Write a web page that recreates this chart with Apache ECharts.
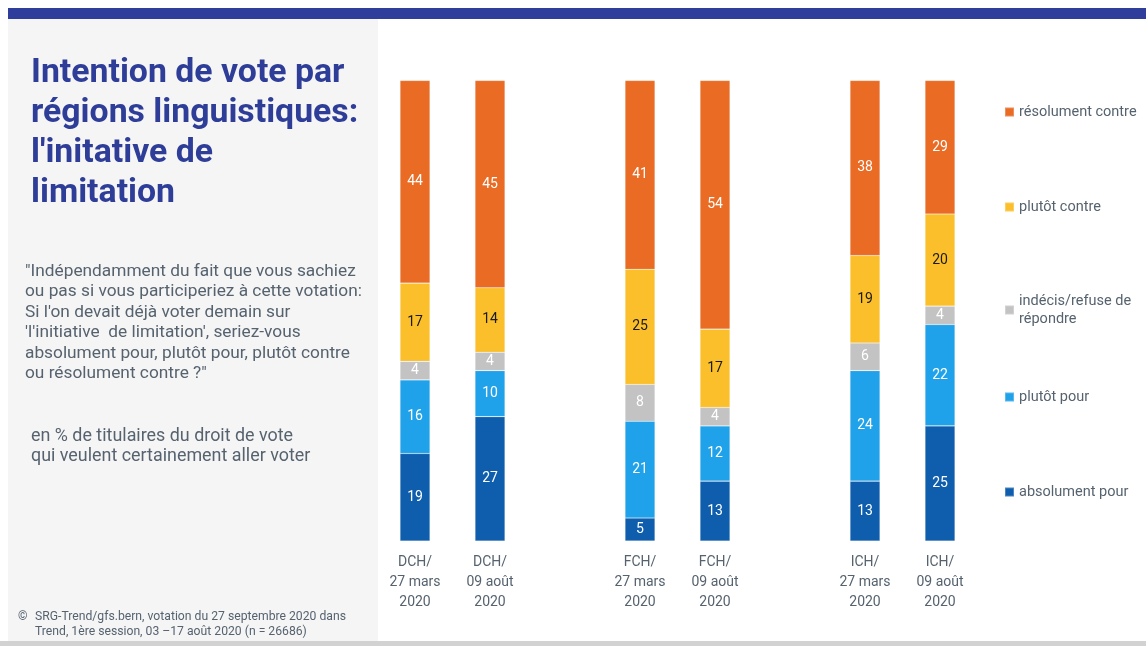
<!DOCTYPE html>
<html>
<head>
<meta charset="utf-8">
<script src="https://cdn.jsdelivr.net/npm/echarts@6/dist/echarts.min.js"></script>
<style>
  html, body { margin: 0; padding: 0; background: #ffffff; }
  #chart { width: 1146px; height: 646px; }
</style>
</head>
<body>
<div id="chart"></div>
<script>
// Survey waves per language region; '' marks the gap between regions
const categories = [
  'DCH/\n27 mars\n2020', 'DCH/\n09 août\n2020', '',
  'FCH/\n27 mars\n2020', 'FCH/\n09 août\n2020', '',
  'ICH/\n27 mars\n2020', 'ICH/\n09 août\n2020'
];

// Shares in % (stacked from bottom to top)
const absolumentPour   = [19, 27, null,  5, 13, null, 13, 25];
const plutotPour       = [16, 10, null, 21, 12, null, 24, 22];
const indecis          = [ 4,  4, null,  8,  4, null,  6,  4];
const plutotContre     = [17, 14, null, 25, 17, null, 19, 20];
const resolumentContre = [44, 45, null, 41, 54, null, 38, 29];

const seriesNames = [
  'absolument pour', 'plutôt pour', 'indécis/refuse de\nrépondre',
  'plutôt contre', 'résolument contre'
];
const seriesData = [absolumentPour, plutotPour, indecis, plutotContre, resolumentContre];
const colors = ['#0e5ead', '#1fa2ea', '#c3c3c3', '#fbbf2b', '#e96b24'];
const labelColors = ['#ffffff', '#ffffff', '#ffffff', '#1b1b1b', '#ffffff'];

const FONT = 'Roboto, "Noto Sans", sans-serif';
const TEXT_GREY = '#56636f';

const chart = echarts.init(document.getElementById('chart'), null, { renderer: 'canvas' });

const series = seriesData.map((d, i) => ({
  name: seriesNames[i],
  type: 'bar',
  stack: 'total',
  barWidth: 30,
  data: d,
  itemStyle: { color: colors[i], borderColor: 'rgba(255,255,255,0.25)', borderWidth: 0.6 },
  label: {
    show: true,
    position: 'inside',
    color: labelColors[i],
    fontFamily: FONT,
    fontSize: 14
  },
  emphasis: { disabled: true }
}));

// One legend block per series, spread down the right side (top to bottom)
const legendOrder = seriesNames.slice().reverse();
const legendTops = [103, 198, 292, 388, 483];
const legends = legendOrder.map((name, i) => ({
  data: [name],
  left: 1004,
  top: legendTops[i],
  padding: 0,
  orient: 'vertical',
  icon: 'rect',
  itemWidth: 9,
  itemHeight: 9,
  itemGap: 6,
  selectedMode: false,
  textStyle: { color: TEXT_GREY, fontFamily: FONT, fontSize: 14.5, lineHeight: 18 }
}));

const plain = (size, lh) => ({ color: TEXT_GREY, fontFamily: FONT, fontWeight: 'normal', fontSize: size, lineHeight: lh });

chart.setOption({
  backgroundColor: '#ffffff',
  animation: false,
  color: colors,
  graphic: [
    { type: 'rect', shape: { x: 8, y: 19, width: 370, height: 622 }, style: { fill: '#f5f5f5' }, z: -10 },
    { type: 'rect', shape: { x: 8, y: 8, width: 1138, height: 11 }, style: { fill: '#2f3e9b' }, z: -5 },
    { type: 'rect', shape: { x: 0, y: 641, width: 1146, height: 5 }, style: { fill: '#d2d2d2' }, z: -5 }
  ],
  title: [
    {
      text: "Intention de vote par\nrégions linguistiques:\nl'initative de\nlimitation",
      left: 31, top: 54, padding: 0,
      textStyle: { color: '#2e3d98', fontFamily: FONT, fontWeight: 'bold', fontSize: 33.8, lineHeight: 40 }
    },
    {
      text: "\"Indépendamment du fait que vous sachiez\nou pas si vous participeriez à cette votation:\nSi l'on devait déjà voter demain sur\n'l'initiative  de limitation', seriez-vous\nabsolument pour, plutôt pour, plutôt contre\nou résolument contre ?\"",
      left: 25, top: 261, padding: 0,
      textStyle: plain(17.3, 20.5)
    },
    {
      text: 'en % de titulaires du droit de vote\nqui veulent certainement aller voter',
      left: 31, top: 427, padding: 0,
      textStyle: plain(17.9, 20)
    },
    {
      text: '©',
      left: 18, top: 609, padding: 0,
      textStyle: plain(12, 15)
    },
    {
      text: 'SRG-Trend/gfs.bern, votation du 27 septembre 2020 dans\nTrend, 1ère session, 03 –17 août 2020 (n = 26686)',
      left: 35, top: 609, padding: 0,
      textStyle: plain(12.2, 15)
    }
  ],
  legend: legends,
  grid: { left: 377.5, width: 600, top: 80.5, height: 460.5, containLabel: false },
  xAxis: {
    type: 'category',
    data: categories,
    axisLine: { show: false },
    axisTick: { show: false },
    axisLabel: {
      interval: 0,
      margin: 11,
      color: TEXT_GREY,
      fontFamily: FONT,
      fontSize: 14,
      lineHeight: 20
    }
  },
  yAxis: {
    type: 'value',
    min: 0,
    max: 100,
    show: false
  },
  series: series
});
</script>
</body>
</html>
